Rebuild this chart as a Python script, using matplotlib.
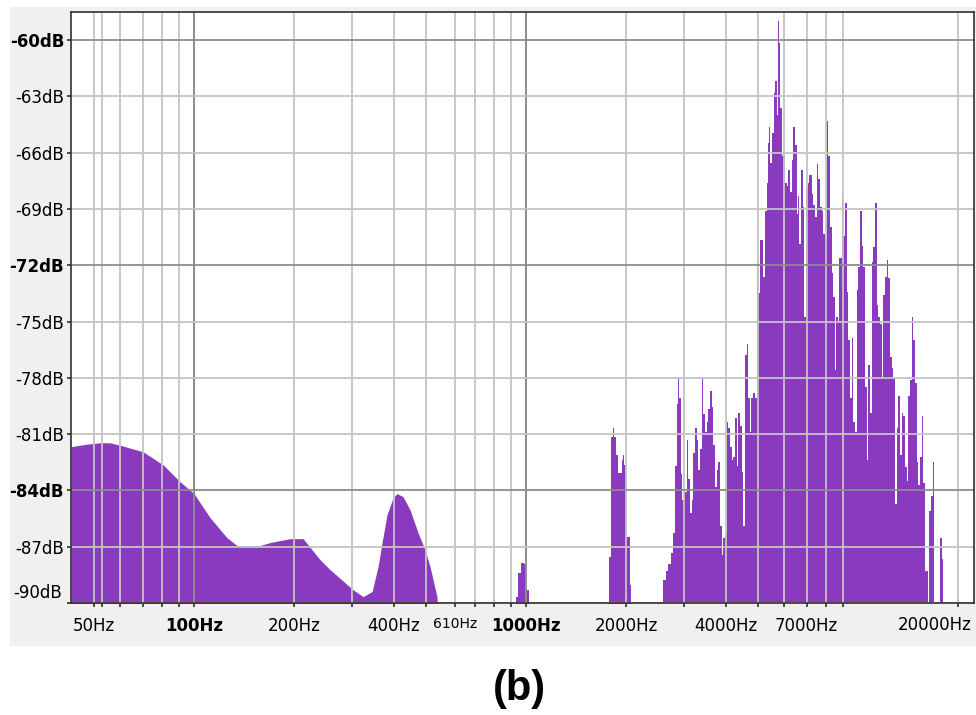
import matplotlib
matplotlib.use("Agg")
import matplotlib.pyplot as plt
from matplotlib.patches import Rectangle

# smooth low-frequency part of the spectrum (Hz, dB)
low_freq = [42.6, 46.9, 52.1, 55.8, 60.7, 70.2, 80.6, 90.8, 100, 111.7, 125.7, 134.8,
            158.0, 169.4, 194.7, 213.0, 239.6, 256.8, 301.2, 322.9, 343.8, 358.4, 368.5,
            381.4, 397.7, 408.8, 426.2, 447.3, 472.8, 496.3, 513.8, 539.3, 543]
low_db = [-81.67, -81.55, -81.46, -81.46, -81.62, -81.94, -82.63, -83.54, -84.17, -85.45,
          -86.52, -86.94, -86.94, -86.78, -86.57, -86.57, -87.69, -88.22, -89.29, -89.66,
          -89.39, -88.06, -86.78, -85.29, -84.39, -84.17, -84.33, -85.03, -86.25, -87.16,
          -88.06, -89.66, -91.0]

# small bump near 1 kHz
bump_freq = [933, 946, 966, 986, 1000, 1021]
bump_db = [-89.66, -88.38, -87.85, -87.9, -89.29, -100]

# cluster near 2 kHz
mid_freq = [1778, 1803, 1828, 1841, 1867, 1893, 1946, 1959, 1973, 2001, 2029, 2057, 2072]
mid_db = [-87.53, -81.14, -80.66, -81.14, -82.10, -83.06, -82.36, -82.10, -82.63,
          -86.46, -86.46, -89.02, -100]

# high band, one value per bin start
high_freq = [2586, 2640, 2677, 2734, 2772, 2811, 2850, 2870, 2890, 2930, 2951, 2992,
             3055, 3076, 3119, 3162, 3184, 3228, 3274, 3296, 3342, 3389, 3412, 3460,
             3508, 3532, 3582, 3632, 3657, 3708, 3760, 3786, 3839, 3893, 3920, 3975,
             4030, 4058, 4115, 4173, 4201, 4260, 4319, 4349, 4410, 4472, 4503, 4566,
             4630, 4662, 4727, 4760, 4826, 4893, 4962, 4996, 5066, 5137, 5172, 5244,
             5318, 5355, 5392, 5429, 5505, 5582, 5620, 5699, 5739, 5779, 5819, 5900,
             5941, 6024, 6108, 6151, 6237, 6324, 6368, 6457, 6547, 6593, 6639, 6731,
             6825, 6873, 6969, 7066, 7115, 7265, 7315, 7417, 7521, 7573, 7679, 7786,
             7840, 7950, 8061, 8117, 8230, 8345, 8402, 8519, 8579, 8699, 8759, 8943,
             9005, 9131, 9258, 9323, 9453, 9585, 9651, 9786, 9923, 9992, 10131, 10273,
             10344, 10489, 10635, 10709, 10859, 11011, 11087, 11242, 11399, 11478, 11639, 11801,
             11883, 12049, 12217, 12302, 12474, 12649, 12736, 12914, 13094, 13186, 13370, 13557,
             13650, 13841, 14034, 14132, 14329, 14530, 14630, 14834, 15042, 15146, 15358, 15573,
             15680, 15899, 16233, 16346, 16575, 16805, 16922, 17040, 17278, 17641, 17888, 18011]
high_db = [-88.8, -88.3, -87.9, -87.35, -86.25, -82.7, -79.4, -78.0, -79.05, -83.1, -84.5, -84.1,
           -81.3, -83.4, -85.2, -84.5, -82.0, -80.65, -81.3, -82.9, -81.8, -78.0, -79.95, -80.9,
           -80.35, -79.65, -78.7, -79.55, -81.6, -83.8, -82.9, -82.5, -85.9, -87.45, -86.55, -86.3,
           -80.35, -80.65, -81.7, -82.4, -82.2, -80.15, -82.7, -79.85, -80.55, -83.0, -85.9, -76.8,
           -76.2, -79.1, -80.9, -79.05, -78.8, -79.1, -71.7, -73.5, -70.65, -70.65, -72.6, -69.1,
           -67.6, -65.5, -64.65, -66.55, -64.95, -62.8, -62.2, -64.0, -58.97, -60.15, -63.6, -66.2,
           -66.0, -67.6, -67.8, -66.9, -68.1, -66.4, -64.65, -65.6, -69.25, -68.3, -70.85, -66.9,
           -68.9, -74.75, -67.9, -67.6, -67.2, -68.2, -68.8, -69.45, -66.6, -67.4, -68.9, -69.1,
           -70.35, -70.55, -64.3, -66.2, -69.95, -72.4, -73.7, -77.6, -74.75, -74.95, -71.6, -68.3,
           -70.45, -68.7, -73.4, -76.0, -79.1, -75.9, -80.35, -80.9, -73.3, -72.1, -69.1, -70.95,
           -72.1, -78.5, -82.4, -77.3, -79.85, -71.8, -71.05, -68.7, -74.1, -74.75, -75.15, -78.0,
           -73.6, -72.6, -71.7, -72.7, -76.9, -77.5, -78.0, -84.7, -80.65, -78.95, -82.1, -79.85,
           -80.05, -82.75, -83.5, -78.95, -78.1, -74.75, -76.0, -78.3, -82.5, -83.7, -82.2, -80.05,
           -83.6, -88.3, -100, -85.1, -84.3, -82.5, -100, -89.95, -100, -86.55, -87.65, -100]

minor_grid_hz = [50, 53, 60, 70, 80, 90, 200, 300, 400, 500, 610, 700, 800, 900,
                 2000, 3000, 4000, 5000, 6000, 7000, 8000, 9000, 20000]
major_grid_hz = [100, 1000]
x_labels = {50: "50Hz", 100: "100Hz", 200: "200Hz", 400: "400Hz", 610: "610Hz",
            1000: "1000Hz", 2000: "2000Hz", 4000: "4000Hz", 7000: "7000Hz"}
db_ticks = [-90, -87, -84, -81, -78, -75, -72, -69, -66, -63, -60]
bold_db = [-84, -72, -60]

purple = "#8a3abe"
W, H = 976, 715

fig = plt.figure(figsize=(W / 100, H / 100), dpi=100)
fig.patches.append(Rectangle((10 / W, 1 - 645 / H), 966 / W, 638 / H,
                             transform=fig.transFigure, color="#f0f0f0", zorder=-10))

ax = fig.add_axes([71 / W, 1 - 603 / H, (974 - 71) / W, (603 - 12) / H])
ax.set_facecolor("white")
ax.set_xscale("log")
ax.set_xlim(42.6, 22360)
ax.set_ylim(-90, -58.5)

ax.fill_between(low_freq, low_db, -100, color=purple, lw=0, zorder=2)
ax.fill_between(bump_freq, bump_db, -100, step="post", color=purple, lw=0, zorder=2)
ax.fill_between(mid_freq, mid_db, -100, step="post", color=purple, lw=0, zorder=2)
ax.fill_between(high_freq, high_db, -100, step="post", color=purple, lw=0, zorder=2)

# grid on top of the spectrum, like the original
for f in minor_grid_hz:
    ax.axvline(f, color="#c4c4c4", lw=1.3, zorder=3)
for f in major_grid_hz:
    ax.axvline(f, color="#8c8c8c", lw=1.4, zorder=3)
for d in db_ticks:
    c = "#8c8c8c" if d in bold_db else "#c4c4c4"
    ax.axhline(d, color=c, lw=1.3, zorder=3)

for s in ax.spines.values():
    s.set_color("#303030")
    s.set_linewidth(1.2)
    s.set_zorder(5)

xt = sorted(minor_grid_hz + major_grid_hz)
ax.set_xticks(xt)
ax.set_xticklabels([x_labels.get(f, "") for f in xt])
ax.minorticks_off()
ax.tick_params(axis="x", length=3, width=1.2, pad=7, labelsize=12, colors="#303030",
               labelcolor="black")
for f, lab in zip(xt, ax.get_xticklabels()):
    if f in major_grid_hz:
        lab.set_fontweight("bold")
    if f == 610:
        lab.set_fontsize(10)
# last label is pushed left so it stays inside the panel
ax.annotate("20000Hz", xy=(1, 0), xycoords="axes fraction", xytext=(-1.5, -9.2),
            textcoords="offset points", ha="right", va="top", fontsize=12)

ax.set_yticks(db_ticks)
ax.set_yticklabels(["" if d == -90 else f"{d}dB" for d in db_ticks])
ax.tick_params(axis="y", length=3, width=1.2, pad=2, labelsize=12, colors="#303030",
               labelcolor="black")
for d, lab in zip(db_ticks, ax.get_yticklabels()):
    if d in bold_db:
        lab.set_fontweight("bold")
# Audacity nudges the bottom label up inside the panel
ax.annotate("-90dB", xy=(0, -90), xycoords=("axes fraction", "data"),
            xytext=(-6.5, 7), textcoords="offset points", ha="right", va="center",
            fontsize=12)

fig.text(519 / W, 1 - 689 / H, "(b)", ha="center", va="center", fontsize=30,
         fontweight="bold", family="Liberation Sans")

fig.savefig("out.png", dpi=100)
